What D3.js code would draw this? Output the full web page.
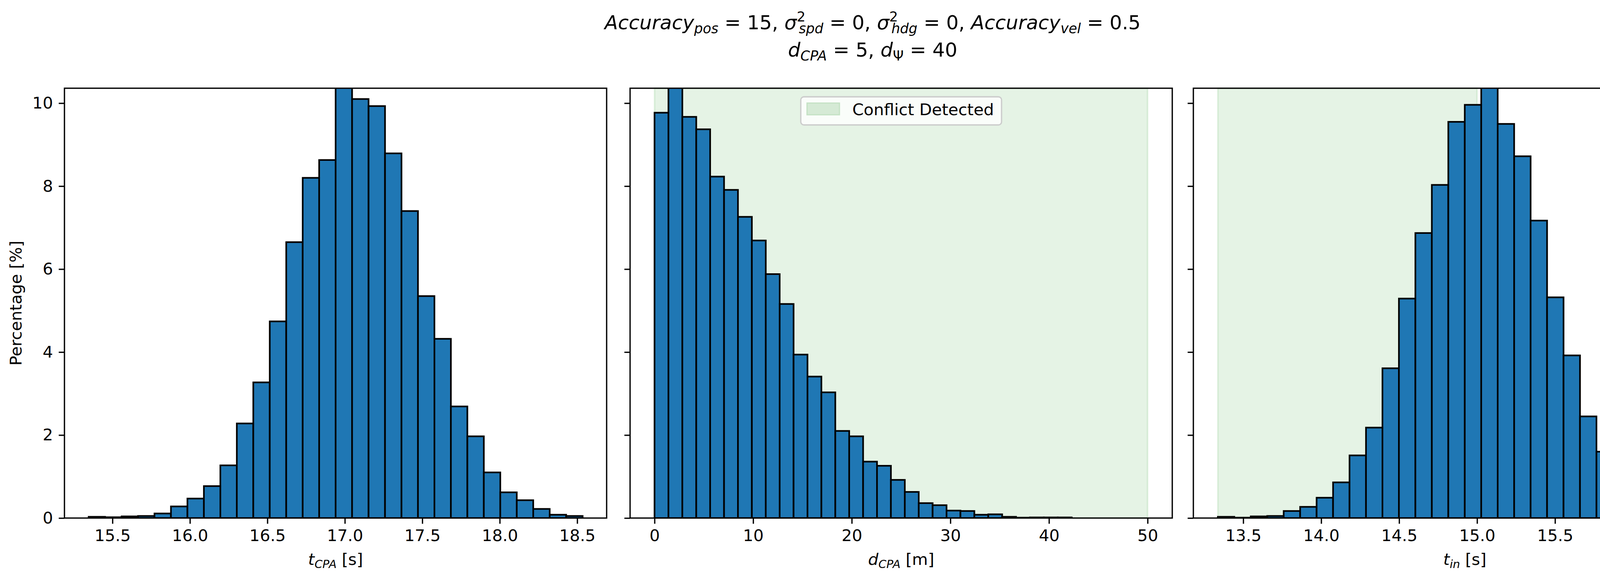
<!DOCTYPE html>
<html><head><meta charset="utf-8">
<script src="https://cdn.jsdelivr.net/npm/d3@7"></script>
<style>body{margin:0;background:#fff}text{font-family:"DejaVu Sans",sans-serif}</style>
</head><body>
<svg id="chart" width="4468" height="1478"></svg>
<script>
// t_CPA histogram
const tcpaStart = 15.346, tcpaEnd = 18.535
const tcpaVals = [0.03,0.02,0.04,0.05,0.11,0.28,0.47,0.77,1.27,2.28,3.27,4.74,6.65,8.2,8.63,10.5,10.1,9.93,8.79,7.4,5.35,4.32,2.69,1.97,1.10,0.62,0.43,0.22,0.08,0.05]
// d_CPA histogram
const dcpaStart = 0, dcpaEnd = 42.3
const dcpaVals = [9.77,10.6,9.67,9.37,8.23,7.91,7.26,6.69,5.88,5.16,3.94,3.41,3.03,2.10,1.97,1.36,1.26,0.92,0.63,0.36,0.31,0.18,0.17,0.08,0.09,0.03,0.01,0.015,0.015,0.015]
// t_in histogram
const tinStart = 13.337, tinEnd = 16.505
const tinVals = [0.03,0.01,0.04,0.05,0.17,0.27,0.49,0.86,1.51,2.18,3.61,5.29,6.87,8.03,9.55,9.96,10.5,9.5,8.72,7.17,5.32,3.92,2.45,1.60,1.02,0.60,0.37,0.20,0.08,0.03]

const yTicks = [0,2,4,6,8,10]

const svg = d3.select('#chart')
const axTop = 226, axBottom = 1327
const fs = 41.7

let y = d3.scaleLinear().domain([0, 10.36]).range([axBottom, axTop])

const panels = [
  {left:165, right:1553, domain:[15.19,18.69], ticks:[15.5,16.0,16.5,17.0,17.5,18.0,18.5], fmt:d3.format('.1f'),
   start:tcpaStart, end:tcpaEnd, vals:tcpaVals, label:['t','CPA',' [s]'], ylabel:true},
  {left:1613, right:3001, domain:[-2.48,52.5], ticks:[0,10,20,30,40,50], fmt:d3.format('d'),
   start:dcpaStart, end:dcpaEnd, vals:dcpaVals, label:['d','CPA',' [m]'], span:[0,50], legend:true},
  {left:3055, right:4445, domain:[13.18,16.663], ticks:[13.5,14.0,14.5,15.0,15.5,16.0,16.5], fmt:d3.format('.1f'),
   start:tinStart, end:tinEnd, vals:tinVals, label:['t','in',' [s]'], span:[13.337,15.0]}
]

panels.forEach((p, i) => {
  let x = d3.scaleLinear().domain(p.domain).range([p.left, p.right])
  let g = svg.append('g')
  svg.append('clipPath').attr('id', 'c' + i).append('rect')
    .attr('x', p.left).attr('y', axTop).attr('width', p.right - p.left).attr('height', axBottom - axTop)

  if (p.span) {
    g.append('rect').attr('x', x(p.span[0])).attr('y', axTop)
      .attr('width', x(p.span[1]) - x(p.span[0])).attr('height', axBottom - axTop)
      .attr('fill', '#2ca02c').attr('fill-opacity', 0.12)
      .attr('stroke', '#2ca02c').attr('stroke-opacity', 0.12).attr('stroke-width', 4)
  }

  let w = (p.end - p.start) / p.vals.length
  g.append('g').attr('clip-path', 'url(#c' + i + ')').selectAll('rect')
    .data(p.vals).enter().append('rect')
    .attr('x', (d, k) => x(p.start + k * w))
    .attr('width', x(p.start + w) - x(p.start))
    .attr('y', d => y(d))
    .attr('height', d => y(0) - y(d))
    .attr('fill', '#1f77b4').attr('stroke', '#000').attr('stroke-width', 4.2)

  let xa = g.append('g').attr('transform', 'translate(0,' + axBottom + ')')
    .call(d3.axisBottom(x).tickValues(p.ticks).tickFormat(p.fmt).tickSize(14.6).tickPadding(14.6))
  let ya = g.append('g').attr('transform', 'translate(' + p.left + ',0)')
    .call(d3.axisLeft(y).tickValues(yTicks).tickSize(14.6).tickPadding(14.6).tickFormat(p.ylabel ? d3.format('d') : ''))
  ;[xa, ya].forEach(a => {
    a.select('.domain').remove()
    a.selectAll('line').attr('stroke', '#000').attr('stroke-width', 3.3)
    a.selectAll('text').attr('font-size', fs).attr('fill', '#000').attr('font-family', 'DejaVu Sans')
  })

  g.append('rect').attr('x', p.left).attr('y', axTop).attr('width', p.right - p.left).attr('height', axBottom - axTop)
    .attr('fill', 'none').attr('stroke', '#000').attr('stroke-width', 3.3)

  let xl = g.append('text').attr('x', (p.left + p.right) / 2).attr('y', axBottom + 120)
    .attr('text-anchor', 'middle').attr('font-size', fs)
  xl.append('tspan').attr('font-style', 'italic').text(p.label[0])
  xl.append('tspan').attr('font-style', 'italic').attr('font-size', fs * 0.7).attr('dy', 8).text(p.label[1])
  xl.append('tspan').attr('dy', -8).text(p.label[2])

  if (p.ylabel) {
    g.append('text').attr('transform', 'translate(55,' + (axTop + axBottom) / 2 + ') rotate(-90)')
      .attr('text-anchor', 'middle').attr('font-size', fs).text('Percentage [%]')
  }

  if (p.legend) {
    let cx = (p.left + p.right) / 2
    let lg = g.append('g')
    lg.append('rect').attr('x', cx - 257).attr('y', 248).attr('width', 514).attr('height', 72).attr('rx', 8)
      .attr('fill', '#fff').attr('fill-opacity', 0.8).attr('stroke', '#ccc').attr('stroke-width', 3.3)
    lg.append('rect').attr('x', cx - 241).attr('y', 264).attr('width', 83).attr('height', 30)
      .attr('fill', '#d5ead5').attr('stroke', '#c4e2c4').attr('stroke-width', 3)
    lg.append('text').attr('x', cx - 125).attr('y', 295).attr('font-size', fs).text('Conflict Detected')
  }
})

// title with math-like subscripts
const tfs = 50
function mathLine(yPos, parts) {
  let t = svg.append('text').attr('x', 2234).attr('y', yPos).attr('text-anchor', 'middle').attr('font-size', tfs)
  parts.forEach(pt => {
    let s = t.append('tspan').text(pt.t)
    if (pt.i) s.attr('font-style', 'italic')
    if (pt.sub) s.attr('font-size', tfs * 0.7).attr('dy', 10)
    if (pt.sup) s.attr('font-size', tfs * 0.7).attr('dy', -20)
    if (pt.dy) s.attr('dy', pt.dy)
    if (pt.dx) s.attr('dx', pt.dx)
  })
}
mathLine(75, [
  {t:'Accuracy', i:1}, {t:'pos', i:1, sub:1}, {t:' = 15, ', dy:-10},
  {t:'σ', i:1}, {t:'2', sup:1}, {t:'spd', i:1, sub:1, dx:-17, dy:30}, {t:' = 0, ', dy:-10},
  {t:'σ', i:1}, {t:'2', sup:1}, {t:'hdg', i:1, sub:1, dx:-17, dy:30}, {t:' = 0, ', dy:-10},
  {t:'Accuracy', i:1}, {t:'vel', i:1, sub:1}, {t:' = 0.5', dy:-10}
])
mathLine(145, [
  {t:'d', i:1}, {t:'CPA', i:1, sub:1}, {t:' = 5, ', dy:-10},
  {t:'d', i:1}, {t:'Ψ', sub:1}, {t:' = 40', dy:-10}
])
</script>
</body></html>
